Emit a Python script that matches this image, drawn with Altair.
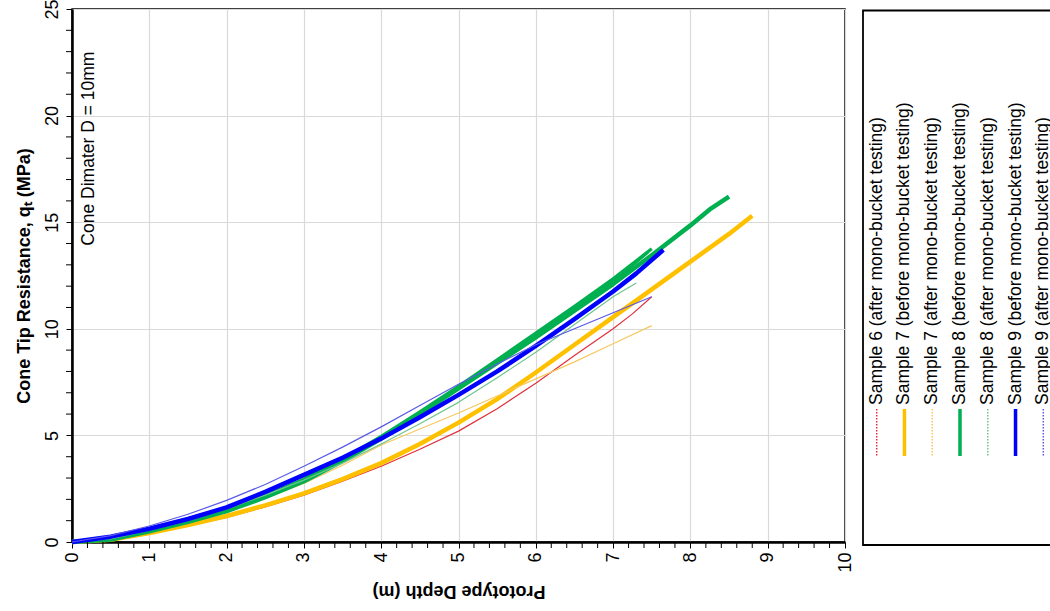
import altair as alt
import pandas as pd

FONT = "Liberation Sans"

# ---------------- data ----------------
S6A_D = [0, 0.5, 1, 1.5, 2, 2.5, 3, 3.5, 4, 4.5, 5, 5.5, 6, 6.5, 7, 7.25, 7.5]
S6A_Q = [0, 0.1, 0.38, 0.75, 1.15, 1.65, 2.2, 2.85, 3.55, 4.35, 5.2, 6.25, 7.45, 8.75, 10.0, 10.7, 11.5]

S7B_D = [0, 0.5, 1, 1.5, 2, 2.5, 3, 3.5, 4, 4.5, 5, 5.5, 6, 6.5, 7, 7.5, 8, 8.5, 8.8]
S7B_Q = [0, 0.1, 0.42, 0.8, 1.22, 1.72, 2.28, 2.95, 3.7, 4.6, 5.6, 6.7, 7.95, 9.25, 10.55, 11.85, 13.15, 14.45, 15.3]

S7A_D = [0, 0.5, 1, 1.5, 2, 2.5, 3, 3.5, 4, 4.5, 5, 5.5, 6, 6.5, 7, 7.5]
S7A_Q = [0, 0.15, 0.5, 0.95, 1.45, 2.05, 2.75, 3.6, 4.55, 5.3, 6.05, 6.85, 7.65, 8.45, 9.3, 10.15]

S8B_D = [0, 0.5, 1, 1.5, 2, 2.5, 3, 3.5, 4, 4.5, 5, 5.5, 6, 6.5, 7, 7.5, 8, 8.25, 8.5]
S8B_Q = [0, 0.12, 0.5, 0.95, 1.45, 2.1, 2.85, 3.8, 4.85, 6.0, 7.2, 8.4, 9.6, 10.85, 12.1, 13.45, 14.85, 15.6, 16.2]

S8B2_D = [0, 0.5, 1, 1.5, 2, 2.5, 3, 3.5, 4, 4.5, 5, 5.5, 6, 6.5, 7, 7.5]
S8B2_Q = [0, 0.15, 0.55, 1.0, 1.52, 2.18, 2.95, 3.9, 4.95, 6.1, 7.3, 8.55, 9.8, 11.05, 12.35, 13.75]

S8B3_D = [0, 0.5, 1, 1.5, 2, 2.5, 3, 3.5, 4, 4.5, 5, 5.5, 6, 6.5, 7, 7.45]
S8B3_Q = [0, 0.13, 0.52, 0.97, 1.48, 2.14, 2.9, 3.85, 4.9, 6.05, 7.25, 8.5, 9.7, 10.95, 12.2, 13.6]

S8A_D = [0, 0.5, 1, 1.5, 2, 2.5, 3, 3.5, 4, 4.5, 5, 5.5, 6, 6.5, 7, 7.3]
S8A_Q = [0, 0.15, 0.55, 1.0, 1.55, 2.2, 2.9, 3.7, 4.6, 5.55, 6.55, 7.7, 8.9, 10.2, 11.5, 12.15]

S9B_D = [0, 0.5, 1, 1.5, 2, 2.5, 3, 3.5, 4, 4.5, 5, 5.5, 6, 6.5, 7, 7.3, 7.65]
S9B_Q = [0, 0.25, 0.62, 1.08, 1.62, 2.35, 3.15, 3.95, 4.85, 5.85, 6.9, 8.0, 9.2, 10.45, 11.75, 12.6, 13.7]

S9A_D = [0, 0.5, 1, 1.5, 2, 2.5, 3, 3.5, 4, 4.5, 5, 5.5, 6, 6.5, 7, 7.5]
S9A_Q = [0, 0.3, 0.75, 1.3, 1.95, 2.7, 3.55, 4.45, 5.4, 6.4, 7.4, 8.35, 9.25, 10.0, 10.75, 11.5]

LEGEND_LABELS = [
    "Sample 6 (after mono-bucket testing)",
    "Sample 7 (before mono-bucket testing)",
    "Sample 7 (after mono-bucket testing)",
    "Sample 8 (before mono-bucket testing)",
    "Sample 8 (after mono-bucket testing)",
    "Sample 9 (before mono-bucket testing)",
    "Sample 9 (after mono-bucket testing)",
]
LEGEND_KIND = ["after", "before", "after", "before", "after", "before", "after"]
LEGEND_COLORS = ["#E0303C", "#FFC000", "#F6C85F", "#00B050", "#70C48E", "#0000FF", "#5A5AE6"]

# (label, depths, values, color, width)
SERIES = [
    ("Sample 6 (after mono-bucket testing)", S6A_D, S6A_Q, "#E0303C", 1.2),
    ("Sample 7 (before mono-bucket testing)", S7B_D, S7B_Q, "#FFC000", 4.5),
    ("Sample 7 (after mono-bucket testing)", S7A_D, S7A_Q, "#F6C85F", 1.2),
    ("Sample 8 (before mono-bucket testing)", S8B_D, S8B_Q, "#00B050", 4.5),
    ("Sample 8 (before, run 2)", S8B2_D, S8B2_Q, "#00B050", 3.2),
    ("Sample 8 (before, run 3)", S8B3_D, S8B3_Q, "#00B050", 3.2),
    ("Sample 8 (after mono-bucket testing)", S8A_D, S8A_Q, "#70C48E", 1.2),
    ("Sample 9 (before mono-bucket testing)", S9B_D, S9B_Q, "#0000FF", 4.5),
    ("Sample 9 (after mono-bucket testing)", S9A_D, S9A_Q, "#5A5AE6", 1.2),
]

X_MAJOR = list(range(0, 11))
Y_MAJOR = [0, 5, 10, 15, 20, 25]
X_MINOR = [round(0.2 * i, 1) for i in range(51) if i % 5]
Y_MINOR = [i for i in range(26) if i % 5]

ANNOT = pd.DataFrame({"depth": [0.22], "qt": [13.9], "label": ["Cone Dimater D = 10mm"]})

# ---------------- chart ----------------
W, H = 773, 533
x_scale = alt.Scale(domain=[0, 10], nice=False, zero=False)
y_scale = alt.Scale(domain=[0, 25], nice=False, zero=False)

x_axis = alt.Axis(
    values=X_MAJOR, title="Prototype Depth (m)", titleFont=FONT, titleFontSize=18,
    titleFontWeight="bold", titleColor="#000", titleAngle=180, titleBaseline="middle",
    titleY=48, labelAngle=270, labelAlign="right", labelBaseline="middle", labelFont=FONT,
    labelFontSize=18, labelColor="#000", labelPadding=4, labelFlush=False, labelOverlap=False,
    tickSize=6, tickColor="#000", tickWidth=1, domainColor="#000", domainWidth=2.5,
    grid=True, gridColor="#d9d9d9", gridWidth=1.2,
)
y_axis = alt.Axis(
    values=Y_MAJOR, title="Cone Tip Resistance, qₜ (MPa)", titleFont=FONT, titleFontSize=18,
    titleFontWeight="bold", titleColor="#000", titleAngle=270, titleBaseline="middle",
    titleX=-48, labelAngle=270, labelAlign="center", labelBaseline="bottom", labelFont=FONT,
    labelFontSize=18, labelColor="#000", labelPadding=5, labelFlush=False, labelOverlap=False,
    tickSize=6, tickColor="#000", tickWidth=1, domainColor="#000", domainWidth=2.5,
    grid=True, gridColor="#d9d9d9", gridWidth=1.2,
)

layers = []
for name, d, q, color, width in SERIES:
    df = pd.DataFrame({"depth": d, "qt": q, "series": name})
    layers.append(
        alt.Chart(df).mark_line(color=color, strokeWidth=width, strokeJoin="round").encode(
            x=alt.X("depth:Q", scale=x_scale, axis=x_axis),
            y=alt.Y("qt:Q", scale=y_scale, axis=y_axis),
        )
    )

xminor = alt.Chart(pd.DataFrame({"depth": X_MINOR})).mark_rule(color="#000", strokeWidth=1).encode(
    x=alt.X("depth:Q", scale=x_scale, axis=x_axis),
    y=alt.value(H), y2=alt.value(H + 6),
)
yminor = alt.Chart(pd.DataFrame({"qt": Y_MINOR})).mark_rule(color="#000", strokeWidth=1).encode(
    y=alt.Y("qt:Q", scale=y_scale, axis=y_axis),
    x=alt.value(0), x2=alt.value(-6),
)
annot = alt.Chart(ANNOT).mark_text(
    angle=270, align="left", baseline="middle", font=FONT, fontSize=17.5, color="#000"
).encode(
    x=alt.X("depth:Q", scale=x_scale, axis=x_axis),
    y=alt.Y("qt:Q", scale=y_scale, axis=y_axis),
    text="label:N",
)

main = alt.layer(*layers, xminor, yminor, annot)

# ---------------- legend (drawn manually, rotated) ----------------
leg_df = pd.DataFrame({"idx": list(range(len(LEGEND_LABELS))), "label": LEGEND_LABELS, "kind": LEGEND_KIND})
leg_x = alt.X("idx:Q", scale=alt.Scale(domain=[0, 6], range=[804.7, 971.3]), axis=None)

leg_box = alt.Chart(leg_df.head(1)).mark_rect(fillOpacity=0, stroke="#000", strokeWidth=1.8).encode(
    x=alt.value(791), x2=alt.value(1010), y=alt.value(1.5), y2=alt.value(536)
)
leg_text = alt.Chart(leg_df).mark_text(
    angle=270, align="left", baseline="middle", font=FONT, fontSize=17.5, color="#000"
).encode(x=leg_x, y=alt.value(396), text="label:N")
leg_sym = alt.Chart(leg_df).mark_rule().encode(
    x=leg_x, y=alt.value(400), y2=alt.value(447),
    color=alt.Color("label:N", scale=alt.Scale(domain=LEGEND_LABELS, range=LEGEND_COLORS), legend=None),
    strokeWidth=alt.StrokeWidth("kind:N", scale=alt.Scale(domain=["before", "after"], range=[3.5, 1.5]), legend=None),
    strokeDash=alt.StrokeDash("kind:N", scale=alt.Scale(domain=["before", "after"], range=[[1, 0], [1.5, 1.5]]), legend=None),
)
legend = alt.layer(leg_box, leg_sym, leg_text)

chart = alt.layer(main, legend).resolve_scale(x="independent").properties(
    width=W, height=H,
    autosize=alt.AutoSizeParams(type="none"),
    padding={"left": 72, "top": 9, "right": 205, "bottom": 69},
    background="white",
).configure_view(stroke="#000", strokeWidth=1.5)

chart.save("out.html", embed_options={"renderer": "svg", "actions": False})
